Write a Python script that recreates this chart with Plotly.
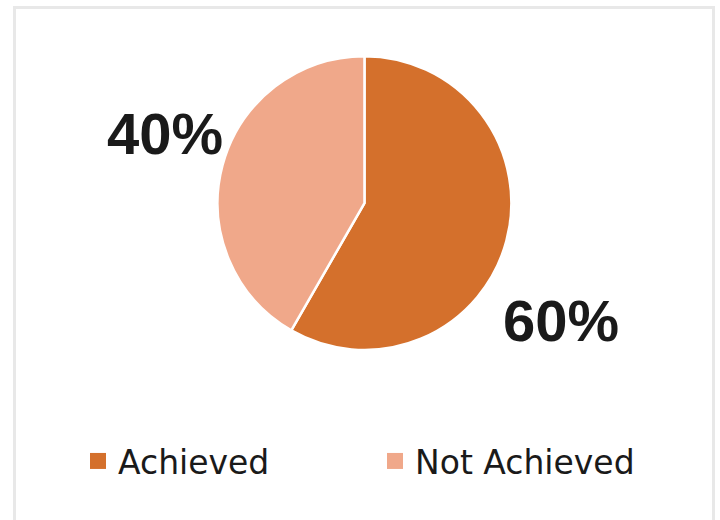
import plotly.graph_objects as go

categories = ["Achieved", "Not Achieved"]
values = [58.3, 41.7]
label_text = ["60%", "40%"]
colors = ["#D4702C", "#F0A88A"]

fig = go.Figure()
fig.add_trace(go.Pie(
    labels=categories,
    values=values,
    sort=False,
    direction="clockwise",
    rotation=0,
    textinfo="none",
    marker=dict(colors=colors, line=dict(color="white", width=2.5)),
    domain=dict(x=[0.302, 0.7104], y=[0.327, 0.892]),
    showlegend=False,
    hoverinfo="label+percent",
))

# legend entries (larger square swatches), same categories and colours
for name, col in zip(categories, colors):
    fig.add_trace(go.Scatter(
        x=[None], y=[None], mode="markers", name=name,
        marker=dict(symbol="square", size=18, color=col),
        showlegend=True, hoverinfo="skip",
    ))

label_pos = [(0.779, 0.3846), (0.229, 0.744)]
for txt, (px, py) in zip(label_text, label_pos):
    fig.add_annotation(
        x=px, y=py, xref="paper", yref="paper",
        text=txt, showarrow=False,
        xanchor="center", yanchor="middle",
        font=dict(family="Liberation Sans, Arial", size=58, color="#1a1a1a", weight="bold"),
    )

fig.add_shape(
    type="rect", xref="paper", yref="paper",
    x0=14.5 / 720, x1=713.5 / 720, y0=-0.05, y1=1 - 7.5 / 520,
    line=dict(color="#e8e8e8", width=3), fillcolor="rgba(0,0,0,0)", layer="below",
)

fig.update_layout(
    width=720, height=520,
    margin=dict(l=0, r=0, t=0, b=0),
    paper_bgcolor="white",
    plot_bgcolor="white",
    xaxis=dict(visible=False),
    yaxis=dict(visible=False),
    legend=dict(
        orientation="h",
        x=78 / 720, xanchor="left",
        y=1 - 461 / 520, yanchor="middle",
        font=dict(family="DejaVu Sans", size=33, color="#1a1a1a"),
        entrywidth=252,
        itemsizing="trace",
        traceorder="normal",
    ),
)

fig.write_html(
    "out.html",
    config={"displayModeBar": False},
    post_script="document.body.style.margin='0';",
)
